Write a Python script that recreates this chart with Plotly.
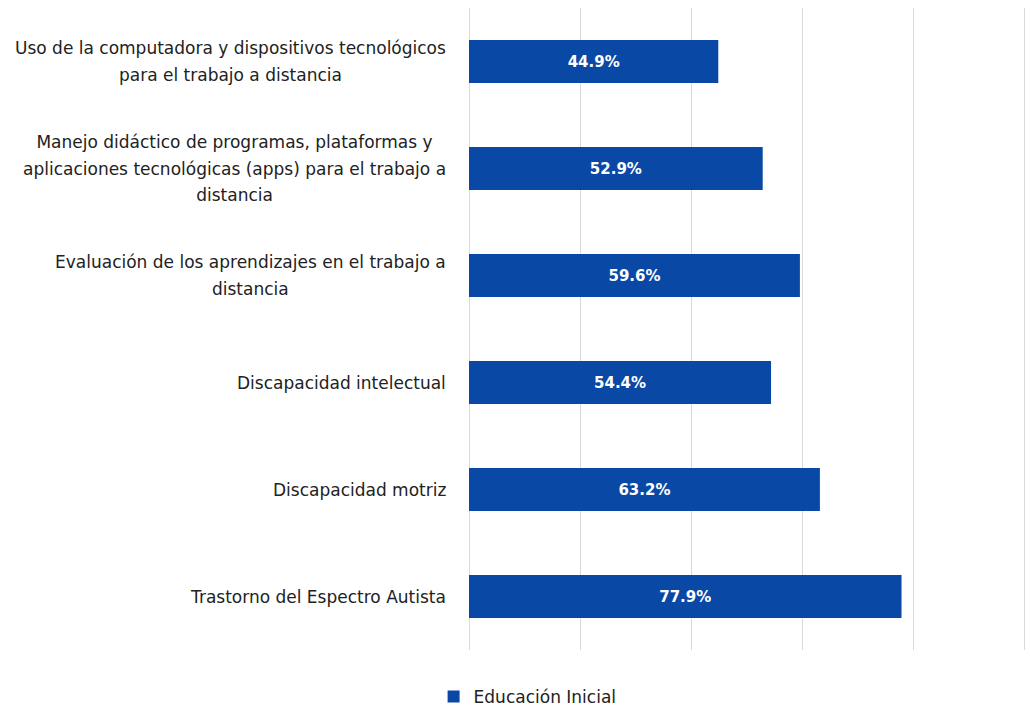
import plotly.graph_objects as go

categories = [
    "Uso de la computadora y dispositivos tecnológicos<br>para el trabajo a distancia",
    "Manejo didáctico de programas, plataformas y<br>aplicaciones tecnológicas (apps) para el trabajo a<br>distancia",
    "Evaluación de los aprendizajes en el trabajo a<br>distancia",
    "Discapacidad intelectual",
    "Discapacidad motriz",
    "Trastorno del Espectro Autista",
]
values = [44.9, 52.9, 59.6, 54.4, 63.2, 77.9]
series_name = "Educación Inicial"
bar_color = "#0A48A5"
FONT = "DejaVu Sans"

fig = go.Figure()
fig.add_trace(go.Bar(
    y=categories,
    x=values,
    orientation="h",
    name=series_name,
    marker=dict(color=bar_color, line=dict(width=0)),
    width=0.4,
    text=[f"{v:.1f}%" for v in values],
    textposition="inside",
    insidetextanchor="middle",
    textfont=dict(color="white", size=15, family=FONT),
    texttemplate="<b>%{text}</b>",
    hoverinfo="skip",
    showlegend=True,
))

for c in categories:
    lines = c.split("<br>")
    txt = "<br>".join(f'<span style="font-size:17px">{ln}</span>' for ln in lines)
    fig.add_annotation(
        x=0, y=c, xref="paper", yref="y",
        text=txt, showarrow=False,
        xanchor="right", yanchor="middle", align="center",
        xshift=-21,
        font=dict(size=20.4, color="#222222", family=FONT),
    )

fig.update_layout(
    width=1030, height=708,
    margin=dict(l=469, r=3, t=8, b=58),
    paper_bgcolor="white",
    plot_bgcolor="white",
    font=dict(family=FONT, color="#222222"),
    xaxis=dict(
        range=[0, 100.5], tickvals=[0, 20, 40, 60, 80, 100], showticklabels=False,
        showgrid=True, gridcolor="#D9D9D9", gridwidth=1,
        zeroline=True, zerolinecolor="#D9D9D9", zerolinewidth=1,
        fixedrange=True,
    ),
    yaxis=dict(
        categoryorder="array", categoryarray=categories,
        autorange="reversed", showticklabels=False, showgrid=False,
        zeroline=False,
    ),
    legend=dict(
        orientation="h", x=0.105, xanchor="center",
        yref="container", y=0.0155, yanchor="middle",
        font=dict(size=17, color="#222222", family=FONT),
        itemwidth=30,
    ),
    bargap=0.6,
)

fig.write_html("out.html", config={"displayModeBar": False},
               post_script="document.body.style.margin='0px';")
